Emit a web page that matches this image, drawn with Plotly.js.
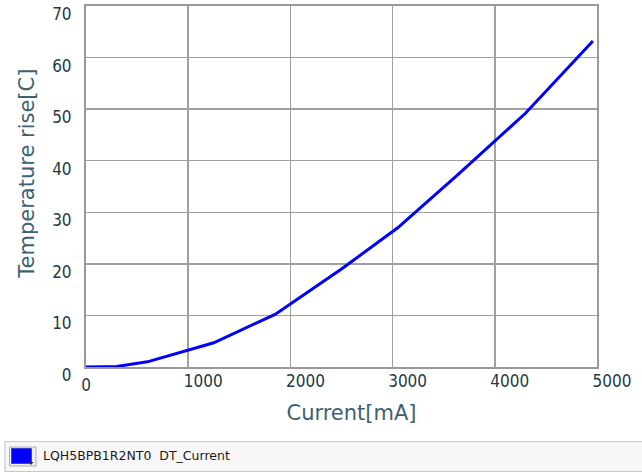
<!DOCTYPE html>
<html>
<head>
<meta charset="utf-8">
<script src="https://cdn.plot.ly/plotly-3.0.1.min.js"></script>
<style>html,body{margin:0;padding:0;background:#fff;}#chart{width:642px;height:473px;}</style>
</head>
<body>
<div id="chart"></div>
<script>
// Data
const currentMA = [0, 300, 600, 1250, 1850, 2500, 3050, 3650, 4300, 4960];
const tempRiseC = [0, 0.1, 1.0, 4.7, 10.2, 19.0, 27.0, 37.5, 49.2, 63.2];
const seriesName = 'LQH5BPB1R2NT0\u00a0\u00a0DT_Current';
const xTickVals = [0, 1000, 2000, 3000, 4000, 5000];
const xTickText = ['0', '1000', '2000', '3000', '4000', '5000'];
const yTickVals = [0, 10, 20, 30, 40, 50, 60, 70];
const yTickText = ['0', '10', '20', '30', '40', '50', '60', '70'];
const xTitle = 'Current[mA]';
const yTitle = 'Temperature rise[C]';

const pad = n => '\u200b' + '\u00a0'.repeat(n);

const tickFont = {family: '"Liberation Sans Narrow", "DejaVu Sans Condensed", sans-serif', size: 17, color: '#1e3a46'};
const titleFont = {family: '"DejaVu Sans", sans-serif', size: 21, color: '#3d6272'};

const traces = [
  {x: currentMA, y: tempRiseC, type: 'scatter', mode: 'lines', name: seriesName,
   line: {color: '#0000ff', width: 3}, showlegend: false, hoverinfo: 'x+y'},
  {x: [xTickVals[0]], y: [null], xaxis: 'x2', yaxis: 'y', type: 'scatter', mode: 'lines',
   showlegend: false, hoverinfo: 'skip'}
];

const layout = {
  width: 642, height: 473,
  margin: {l: 86, r: 45, t: 6, b: 106},
  paper_bgcolor: '#ffffff', plot_bgcolor: '#ffffff',
  xaxis: {
    range: [0, 5000], tickvals: xTickVals,
    ticktext: xTickText.map((t, i) => i === 0 ? t : ''),
    showgrid: true, gridcolor: '#a0a0a0', gridwidth: 1.5,
    showline: true, linecolor: '#999999', linewidth: 2, mirror: true,
    zeroline: false, ticks: '', tickfont: tickFont, ticklabelstandoff: 2,
    title: {text: pad(3) + xTitle, font: titleFont, standoff: 11},
    fixedrange: true
  },
  xaxis2: {
    overlaying: 'x', anchor: 'y', side: 'bottom', range: [0, 5000],
    tickvals: xTickVals.slice(1), ticktext: xTickText.slice(1),
    showgrid: false, showline: false, zeroline: false, ticks: '',
    tickfont: tickFont, ticklabelshift: 15, ticklabelstandoff: 2, fixedrange: true
  },
  yaxis: {
    range: [0, 70], tickvals: yTickVals, ticktext: yTickText,
    showgrid: true, gridcolor: '#a0a0a0', gridwidth: 1.5,
    showline: true, linecolor: '#999999', linewidth: 2, mirror: true,
    zeroline: false, ticks: '', tickfont: tickFont, ticklabelstandoff: 9,
    ticklabelshift: 8,
    title: {text: pad(4) + yTitle, font: titleFont, standoff: 12},
    fixedrange: true
  },
  shapes: [
    // legend bar
    {type: 'rect', xref: 'paper', yref: 'paper',
     x0: (5 - 86) / 511, x1: (645 - 86) / 511,
     y0: (367 - 471.5) / 361, y1: (367 - 441.5) / 361,
     fillcolor: '#f7f7f7', line: {color: '#c8c8c8', width: 1.2}},
    // button frame
    {type: 'rect', xref: 'paper', yref: 'paper',
     x0: (9.5 - 86) / 511, x1: (36 - 86) / 511,
     y0: (367 - 466) / 361, y1: (367 - 447) / 361,
     fillcolor: '#eeeeee', line: {color: '#b0b0b0', width: 1}},
    // blue swatch
    {type: 'rect', xref: 'paper', yref: 'paper',
     x0: (11.5 - 86) / 511, x1: (31.5 - 86) / 511,
     y0: (367 - 463.5) / 361, y1: (367 - 448.5) / 361,
     fillcolor: '#0000ff', line: {color: '#0000cc', width: 0.5}},
    // dropdown arrow
    {type: 'path', xref: 'paper', yref: 'paper',
     path: 'M ' + ((28.5 - 86) / 511) + ' ' + ((367 - 462) / 361) +
           ' L ' + ((33.5 - 86) / 511) + ' ' + ((367 - 462) / 361) +
           ' L ' + ((31 - 86) / 511) + ' ' + ((367 - 465) / 361) + ' Z',
     fillcolor: '#333333', line: {width: 0}}
  ],
  annotations: [
    {xref: 'paper', yref: 'paper', x: (40.5 - 86) / 511, y: (367 - 455.5) / 361,
     xanchor: 'left', yanchor: 'middle', showarrow: false, text: seriesName,
     font: {family: '"DejaVu Sans", sans-serif', size: 12.5, color: '#1a1a1a'}}
  ]
};

Plotly.newPlot('chart', traces, layout, {staticPlot: true, displayModeBar: false});
</script>
</body>
</html>
